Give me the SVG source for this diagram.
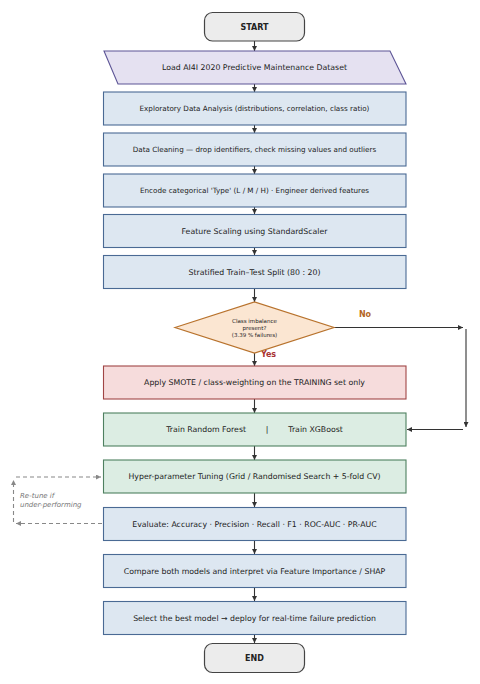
<svg xmlns="http://www.w3.org/2000/svg" width="480" height="684" viewBox="0 0 480 684">
<style>
text{font-family:"DejaVu Sans","Liberation Sans",sans-serif;fill:#222;text-anchor:middle;dominant-baseline:central}
.t{font-size:7.8px}
.s{font-size:7.2px}
.term rect{fill:#ececec;stroke:#444;stroke-width:1.2}
.term text{font-weight:bold;font-size:8px}
.blue rect{fill:#dde7f1;stroke:#4a6a94;stroke-width:1.1}
.green rect{fill:#dcede3;stroke:#4e8060;stroke-width:1.1}
.pink rect{fill:#f6dcdc;stroke:#a04545;stroke-width:1.1}
.c line,.c path{stroke:#333;stroke-width:1.1;fill:none}
.d line{stroke:#888;stroke-width:1.1;stroke-dasharray:4 3}
</style>
<defs>
<marker id="ah" viewBox="0 0 10 10" refX="10" refY="5" markerWidth="5" markerHeight="5" orient="auto" markerUnits="userSpaceOnUse"><path d="M0,0 L10,5 L0,10 z" fill="#333"/></marker>
<marker id="ag" viewBox="0 0 10 10" refX="10" refY="5" markerWidth="5" markerHeight="5" orient="auto" markerUnits="userSpaceOnUse"><path d="M0,0 L10,5 L0,10 z" fill="#888"/></marker>
</defs>
<g id="connectors">
<g class="c">
<line x1="254.5" y1="41" x2="254.5" y2="51" marker-end="url(#ah)"/>
<line x1="254.5" y1="84" x2="254.5" y2="92" marker-end="url(#ah)"/>
<line x1="254.5" y1="125" x2="254.5" y2="133" marker-end="url(#ah)"/>
<line x1="254.5" y1="166" x2="254.5" y2="174" marker-end="url(#ah)"/>
<line x1="254.5" y1="207" x2="254.5" y2="214" marker-end="url(#ah)"/>
<line x1="254.5" y1="248" x2="254.5" y2="255" marker-end="url(#ah)"/>
<line x1="254.5" y1="289" x2="254.5" y2="302" marker-end="url(#ah)"/>
<line x1="254.5" y1="353" x2="254.5" y2="366" marker-end="url(#ah)"/>
<line x1="254.5" y1="399" x2="254.5" y2="413" marker-end="url(#ah)"/>
<line x1="254.5" y1="446" x2="254.5" y2="460" marker-end="url(#ah)"/>
<line x1="254.5" y1="493" x2="254.5" y2="507" marker-end="url(#ah)"/>
<line x1="254.5" y1="541" x2="254.5" y2="554" marker-end="url(#ah)"/>
<line x1="254.5" y1="588" x2="254.5" y2="601" marker-end="url(#ah)"/>
<line x1="254.5" y1="635" x2="254.5" y2="643" marker-end="url(#ah)"/>
<line x1="334" y1="327.5" x2="463" y2="327.5" marker-end="url(#ah)"/>
<line x1="466" y1="329" x2="466" y2="427" marker-end="url(#ah)"/>
<line x1="463" y1="429.5" x2="407" y2="429.5" marker-end="url(#ah)"/>
</g>
<g class="d">
<line x1="102" y1="523.5" x2="16" y2="523.5" marker-end="url(#ag)"/>
<line x1="13.5" y1="522" x2="13.5" y2="480" marker-end="url(#ag)"/>
<line x1="16" y1="477" x2="101" y2="477" marker-end="url(#ag)"/>
</g>
<text x="365" y="314.5" style="font-size:8px;font-weight:bold;fill:#b5661f">No</text>
<text x="268.5" y="354.5" style="font-size:8px;font-weight:bold;fill:#a83232">Yes</text>
<text x="20" y="495.5" style="font-size:7px;font-style:italic;fill:#777;text-anchor:start">Re-tune if</text>
<text x="20" y="504.5" style="font-size:7px;font-style:italic;fill:#777;text-anchor:start">under-performing</text>
</g>
<g id="start" class="term"><rect x="204.5" y="12.5" width="100" height="28.5" rx="8"/><text x="254.5" y="27">START</text></g>
<g id="load"><polygon points="104,51 390,51 406,84 118,84" fill="#e5e1f1" stroke="#5d5596" stroke-width="1.1"/><text class="t" x="254.5" y="67.5">Load AI4I 2020 Predictive Maintenance Dataset</text></g>
<g id="eda" class="blue"><rect x="103.5" y="92" width="302.5" height="33"/><text class="s" x="254.5" y="108.5">Exploratory Data Analysis (distributions, correlation, class ratio)</text></g>
<g id="clean" class="blue"><rect x="103.5" y="133" width="302.5" height="33"/><text class="s" x="254.5" y="149.5">Data Cleaning — drop identifiers, check missing values and outliers</text></g>
<g id="encode" class="blue"><rect x="103.5" y="174" width="302.5" height="33"/><text class="s" x="254.5" y="190.5">Encode categorical 'Type' (L / M / H)  ·  Engineer derived features</text></g>
<g id="scale" class="blue"><rect x="103.5" y="214.5" width="302.5" height="33"/><text class="t" x="254.5" y="231">Feature Scaling using StandardScaler</text></g>
<g id="split" class="blue"><rect x="103.5" y="255.5" width="302.5" height="33"/><text class="t" x="254.5" y="272">Stratified Train–Test Split (80 : 20)</text></g>
<g id="decision"><polygon points="175,327.5 254.5,302 334,327.5 254.5,353" fill="#fbe6d2" stroke="#b8722c" stroke-width="1.2"/>
<text x="254.5" y="320.5" style="font-size:5.5px">Class imbalance</text>
<text x="254.5" y="327.5" style="font-size:5.5px">present?</text>
<text x="254.5" y="334.5" style="font-size:5.5px">(3.39 % failures)</text></g>
<g id="smote" class="pink"><rect x="103.5" y="366" width="302.5" height="33"/><text class="t" x="254.5" y="382.5">Apply SMOTE / class-weighting on the TRAINING set only</text></g>
<g id="train" class="green"><rect x="103.5" y="413" width="302.5" height="33"/><text class="t" x="254.5" y="429.5" style="white-space:pre" xml:space="preserve">Train Random Forest        |        Train XGBoost</text></g>
<g id="tune" class="green"><rect x="103.5" y="460" width="302.5" height="33"/><text class="t" x="254.5" y="476.5">Hyper-parameter Tuning (Grid / Randomised Search + 5-fold CV)</text></g>
<g id="eval" class="blue"><rect x="103.5" y="507.5" width="302.5" height="33"/><text class="t" x="254.5" y="524">Evaluate: Accuracy · Precision · Recall · F1 · ROC-AUC · PR-AUC</text></g>
<g id="compare" class="blue"><rect x="103.5" y="554.5" width="302.5" height="33"/><text class="t" x="254.5" y="571">Compare both models and interpret via Feature Importance / SHAP</text></g>
<g id="select" class="blue"><rect x="103.5" y="601.5" width="302.5" height="33"/><text class="t" x="254.5" y="618">Select the best model → deploy for real-time failure prediction</text></g>
<g id="end" class="term"><rect x="204.5" y="643.5" width="100" height="29" rx="8"/><text x="254.5" y="658">END</text></g>
</svg>
